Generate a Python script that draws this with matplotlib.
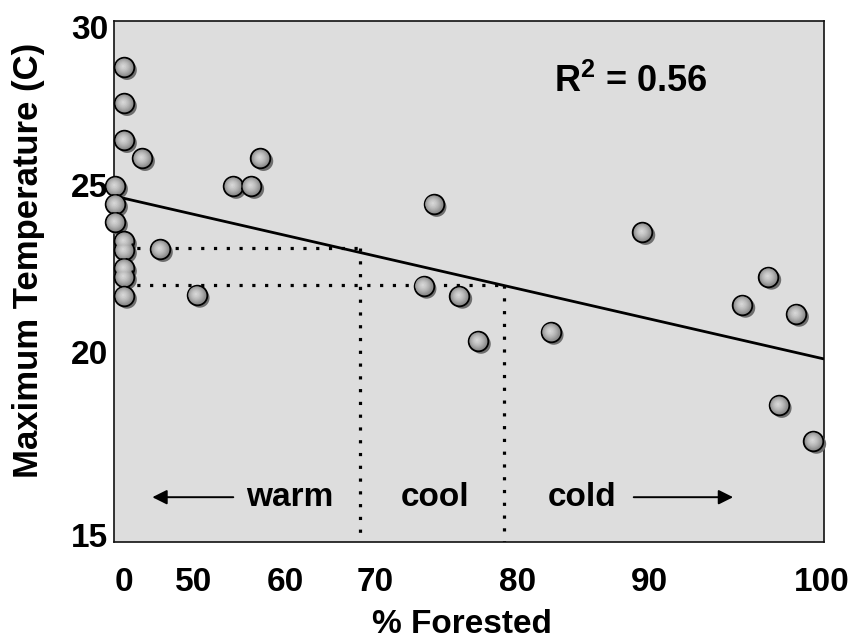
import numpy as np
import matplotlib
matplotlib.use("Agg")
import matplotlib.pyplot as plt
from matplotlib import transforms
from matplotlib.colors import to_rgb

# --- data -------------------------------------------------------------
forested = [0, 0, 0, 12.9, -6.4, -6.4, -6.4, 0, 0, 0, 0, 0,
            25.7, 50.3, 54.3, 56.3, 57.3,
            74.1, 73.4, 75.9, 77.2, 82.5, 89.5,
            95.4, 96.9, 98.5, 97.5, 99.5]
max_temp = [28.73, 27.59, 26.42, 25.85, 24.97, 24.43, 23.89, 23.32, 23.05, 22.51, 22.25, 21.68,
            23.08, 21.71, 24.97, 24.97, 25.85,
            24.43, 21.98, 21.68, 20.33, 20.60, 23.59,
            21.41, 22.25, 21.14, 18.55, 17.57]

x_ticks = [0, 50, 60, 70, 80, 90, 100]
x_ticklabels = ["0", "50", "60", "70", "80", "90", "100"]
y_ticks = [15, 20, 25, 30]
y_ticklabels = ["15", "20", "25", "30"]

fit_temp_ends = [24.67, 19.81]          # regression line at the two plot edges
r_squared = 0.56
cut_forest = [68.3, 79.0]               # forest cover where the fit crosses the cut temps
cut_temp = [23.1, 22.0]
zone_labels = ["warm", "cool", "cold"]

# --- irregular axis spacing (axes-fraction position of each tick) -----
x_tick_pos = [0.0141, 0.1127, 0.2408, 0.3676, 0.5690, 0.7535, 0.9972]
y_tick_pos = [0.0134, 0.3647, 0.6852, 0.9885]


def piecewise(vals, pos):
    vals = np.asarray(vals, float)
    pos = np.asarray(pos, float)
    s0 = (pos[1] - pos[0]) / (vals[1] - vals[0])
    s1 = (pos[-1] - pos[-2]) / (vals[-1] - vals[-2])

    def fwd(v):
        v = np.asarray(v, float)
        out = np.interp(v, vals, pos)
        out = np.where(v < vals[0], pos[0] + (v - vals[0]) * s0, out)
        out = np.where(v > vals[-1], pos[-1] + (v - vals[-1]) * s1, out)
        return out

    def inv(p):
        p = np.asarray(p, float)
        out = np.interp(p, pos, vals)
        out = np.where(p < pos[0], vals[0] + (p - pos[0]) / s0, out)
        out = np.where(p > pos[-1], vals[-1] + (p - pos[-1]) / s1, out)
        return out

    return fwd, inv


fx, ix = piecewise(x_ticks, x_tick_pos)
fy, iy = piecewise(y_ticks, y_tick_pos)

plt.rcParams["font.family"] = ["Liberation Sans", "DejaVu Sans"]
plt.rcParams["font.weight"] = "bold"
plt.rcParams["mathtext.fontset"] = "custom"
plt.rcParams["mathtext.rm"] = "Liberation Sans:bold"
plt.rcParams["mathtext.it"] = "Liberation Sans:bold"
plt.rcParams["mathtext.bf"] = "Liberation Sans:bold"

FS = 24

fig = plt.figure(figsize=(8.62, 6.44), dpi=100)
ax = fig.add_axes([114 / 862, 102 / 644, 710 / 862, 521 / 644])
ax.set_facecolor("#dddddd")
ax.set_xscale("function", functions=(fx, ix))
ax.set_yscale("function", functions=(fy, iy))
x0, x1 = float(ix(0.0)), float(ix(1.0))
y0, y1 = float(iy(0.0)), float(iy(1.0))
ax.set_xlim(x0, x1)
ax.set_ylim(y0, y1)

for sp in ax.spines.values():
    sp.set_linewidth(1.2)
    sp.set_color("#111111")

ax.set_xticks(x_ticks)
ax.set_xticklabels(x_ticklabels)
ax.set_yticks(y_ticks)
ax.set_yticklabels(y_ticklabels)
ax.xaxis.set_minor_locator(matplotlib.ticker.NullLocator())
ax.yaxis.set_minor_locator(matplotlib.ticker.NullLocator())
ax.tick_params(axis="both", length=0, labelsize=FS)
ax.tick_params(axis="x", pad=18)
ax.tick_params(axis="y", pad=4)
for lab in ax.get_xticklabels() + ax.get_yticklabels():
    lab.set_fontweight("bold")

ax.set_xlabel("% Forested", fontsize=FS, fontweight="bold")
ax.xaxis.set_label_coords(0.49, -0.159)
ax.xaxis.label.set_va("center")
ax.set_ylabel("Maximum Temperature (C)", fontsize=25, fontweight="bold")
ax.yaxis.set_label_coords(-0.121, 0.54)
ax.yaxis.label.set_va("center")

# regression line
ax.plot([x0, x1], fit_temp_ends, color="black", lw=2.0, zorder=3, solid_capstyle="butt")

# dotted guides from the fit line to the axes
dot = dict(color="black", lw=2.3, linestyle=(0, (1, 3.0)), dash_capstyle="butt", zorder=2)
for cf, ct in zip(cut_forest, cut_temp):
    ax.plot([0, cf], [ct, ct], **dot)
    ax.plot([cf, cf], [ct, y0], **dot)

# points: drop shadow, then shaded sphere
shadow = transforms.offset_copy(ax.transData, fig=fig, x=3, y=-3, units="dots")
S = 200
ax.scatter(forested, max_temp, s=S, color="#6e6e6e", edgecolors="none",
           transform=shadow, zorder=4, clip_on=False)
ax.scatter(forested, max_temp, s=S, color="#8e8e8e", edgecolors="black",
           linewidths=1.3, zorder=5, clip_on=False)
dark = np.array(to_rgb("#8e8e8e"))
light = np.array(to_rgb("#d6d6d6"))
n = 8
for k in range(1, n + 1):
    t = k / n
    tr = transforms.offset_copy(ax.transData, fig=fig, x=-0.8 * t, y=0.8 * t, units="dots")
    ax.scatter(forested, max_temp, s=S * 0.82 * (1 - t) ** 1.2 + 4, color=dark + (light - dark) * t,
               edgecolors="none", transform=tr, zorder=5 + k * 0.01, clip_on=False)

# R^2 annotation
ax.text(0.728, 0.884, r"R$^{2}$" + f" = {r_squared:.2f}", transform=ax.transAxes,
        fontsize=26, fontweight="bold", ha="center", va="center", zorder=6)

# zone labels and arrows
ty = 0.086
for lab, xf in zip(zone_labels, [0.248, 0.452, 0.659]):
    ax.text(xf, ty, lab, transform=ax.transAxes, fontsize=FS, fontweight="bold",
            ha="center", va="center", zorder=6)
arrow = dict(arrowstyle="-|>", color="black", lw=1.4, mutation_scale=22, shrinkA=0, shrinkB=0)
ax.annotate("", xy=(0.054, ty), xytext=(0.168, ty), xycoords="axes fraction",
            textcoords="axes fraction", arrowprops=arrow, zorder=6)
ax.annotate("", xy=(0.872, ty), xytext=(0.732, ty), xycoords="axes fraction",
            textcoords="axes fraction", arrowprops=arrow, zorder=6)

fig.savefig("out.png", dpi=100, facecolor="white")
